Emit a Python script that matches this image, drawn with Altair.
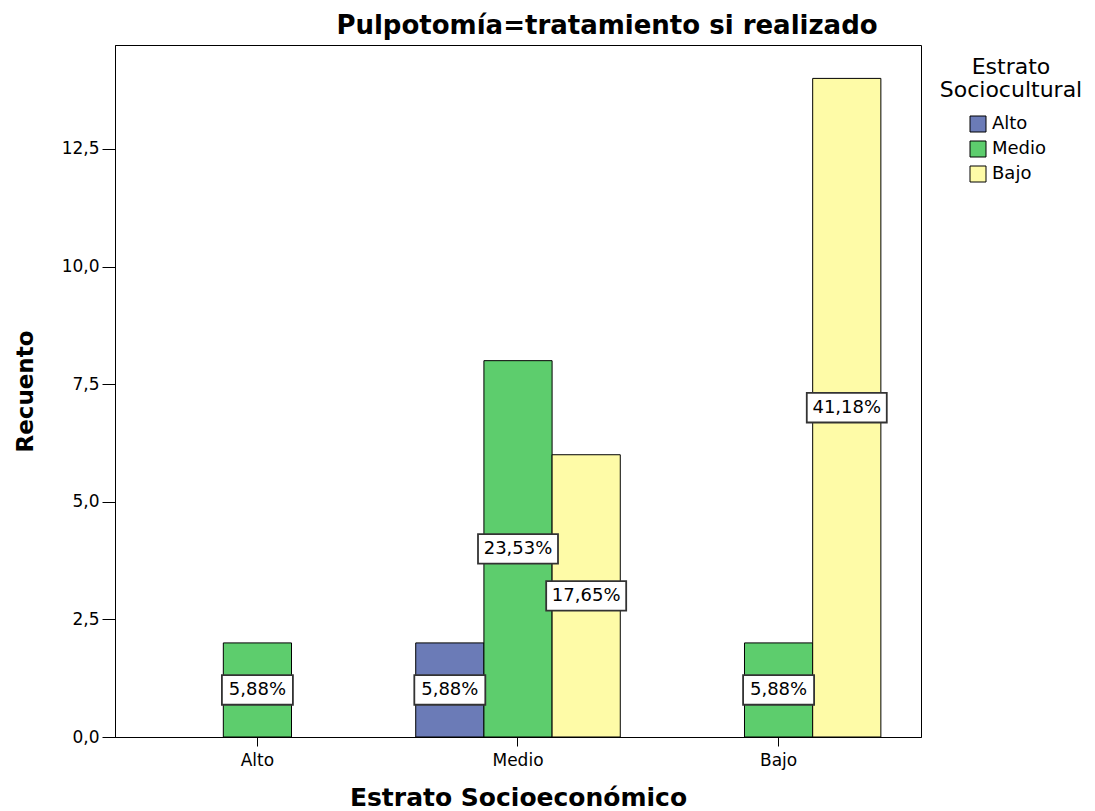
import altair as alt
import pandas as pd

# ---- data ----
categories = ["Alto", "Medio", "Bajo"]            # x axis: Estrato Socioeconómico
series = ["Alto", "Medio", "Bajo"]                # legend: Estrato Sociocultural
colors = ["#6b7bb7", "#5dcd6d", "#fefba7"]

bar_category = ["Alto", "Medio", "Medio", "Medio", "Bajo", "Bajo"]
bar_series = ["Medio", "Alto", "Medio", "Bajo", "Medio", "Bajo"]
bar_count = [2, 2, 8, 6, 2, 14]
bar_pct = ["5,88%", "5,88%", "23,53%", "17,65%", "5,88%", "41,18%"]

y_ticks = [0, 2.5, 5, 7.5, 10, 12.5]

title_text = "Pulpotomía=tratamiento si realizado"
x_title = "Estrato Socioeconómico"
y_title = "Recuento"
legend_title = "Estrato\nSociocultural"

FONT = "DejaVu Sans"

df = pd.DataFrame({"cat": bar_category, "ser": bar_series,
                   "count": bar_count, "pct": bar_pct})

x_scale = alt.Scale(type="band", domain=categories, paddingInner=0.215, paddingOuter=0.154)
off_scale = alt.Scale(type="band", domain=series, paddingInner=0, paddingOuter=0)
y_scale = alt.Scale(domain=[0, 14.71], nice=False, zero=True)

x_axis = alt.Axis(title=x_title, labelAngle=0, tickSize=9, labelPadding=6,
                  labelFont=FONT, labelFontSize=17, labelColor="black",
                  titleFont=FONT, titleFontSize=25, titleFontWeight="bold",
                  titleColor="black", titleY=60, titleBaseline="middle",
                  domainColor="black", tickColor="black", grid=False)

y_axis = alt.Axis(title=y_title, values=y_ticks,
                  labelExpr="replace(format(datum.value, '.1f'), '.', ',')",
                  grid=False, tickSize=13, labelPadding=3,
                  labelFont=FONT, labelFontSize=17, labelColor="black",
                  titleFont=FONT, titleFontSize=23, titleFontWeight="bold",
                  titleColor="black", titleX=-90, titleY=346, titleAngle=270,
                  titleAlign="center", titleBaseline="middle",
                  domainColor="black", tickColor="black")

x_enc = alt.X("cat:N", sort=categories, scale=x_scale, axis=x_axis, title=x_title)
x_off = alt.XOffset("ser:N", sort=series, scale=off_scale)

base = alt.Chart(df)

bars = base.mark_bar(stroke="black", strokeWidth=1).encode(
    x=x_enc,
    xOffset=x_off,
    y=alt.Y("count:Q", scale=y_scale, axis=y_axis, title=y_title),
    color=alt.Color("ser:N", sort=series,
                    scale=alt.Scale(domain=series, range=colors),
                    legend=alt.Legend(title=None, orient="none", legendX=854, legendY=70,
                                      symbolType="square", symbolSize=256,
                                      symbolStrokeColor="black", symbolStrokeWidth=1,
                                      labelFont=FONT, labelFontSize=18, labelColor="black",
                                      rowPadding=5, labelOffset=5, padding=0)),
)

path6 = "M-1,-0.37L1,-0.37L1,0.37L-1,0.37Z"
path5 = "M-0.8875,-0.37L0.8875,-0.37L0.8875,0.37L-0.8875,0.37Z"

boxes = base.transform_calculate(mid="datum.count / 2").mark_point(
    filled=True, fill="white", fillOpacity=1, opacity=1,
    stroke="#333333", strokeWidth=1.8, size=6400
).encode(
    x=x_enc,
    xOffset=x_off,
    y=alt.Y("mid:Q", scale=y_scale, axis=y_axis, title=y_title),
    shape=alt.condition("length(datum.pct) > 5", alt.value(path6), alt.value(path5)),
)

texts = base.transform_calculate(mid="datum.count / 2").mark_text(
    font=FONT, fontSize=18, color="black", baseline="middle", align="center"
).encode(
    x=x_enc,
    xOffset=x_off,
    y=alt.Y("mid:Q", scale=y_scale, axis=y_axis, title=y_title),
    text="pct:N",
)

leg_title = alt.Chart(pd.DataFrame({"t": [legend_title]})).mark_text(
    font=FONT, fontSize=22, lineBreak="\n", lineHeight=23,
    align="center", baseline="alphabetic", color="black"
).encode(
    x=alt.value(896), y=alt.value(29), text="t:N"
)

chart = alt.layer(bars, boxes, texts, leg_title).properties(
    width=806, height=692,
    background="white",
    title=alt.TitleParams(title_text, font=FONT, fontSize=26, fontWeight="bold",
                          anchor="middle", dx=89, offset=6, color="black"),
    autosize=alt.AutoSizeParams(type="none"),
    padding={"left": 107, "top": 37, "right": 166, "bottom": 74},
).configure_view(stroke="black", strokeWidth=1)

chart.save("out.html", embed_options={"renderer": "svg", "actions": False})
